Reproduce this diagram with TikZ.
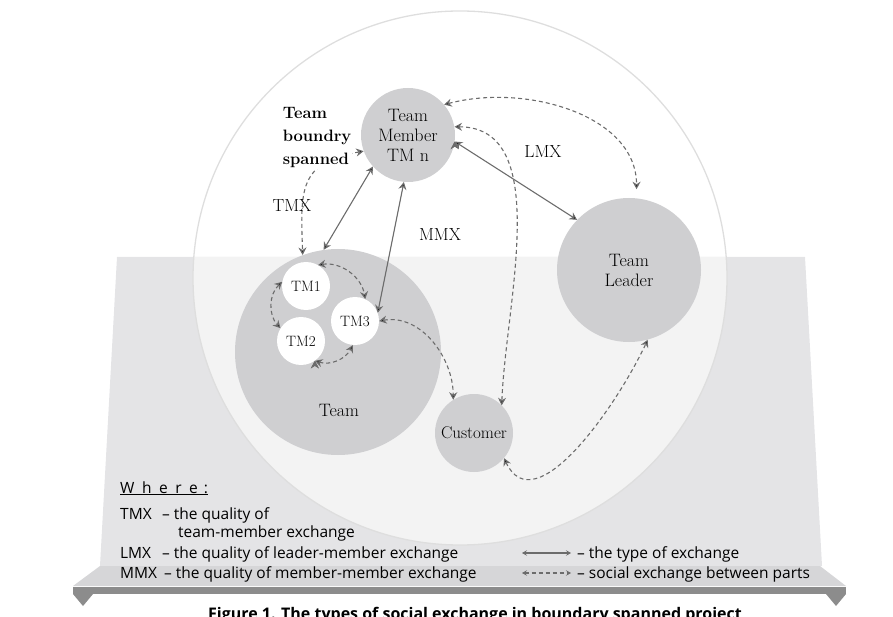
\documentclass[tikz,border=0pt]{standalone}
\usepackage{fontspec}
\setsansfont{Open Sans}
\usepackage{tikz}
\usetikzlibrary{arrows.meta, positioning}
\usepackage{xcolor}

\definecolor{panelgray}{RGB}{228,228,230}
\definecolor{innergray}{RGB}{243,243,243}
\definecolor{ringgray}{RGB}{222,222,222}
\definecolor{nodegray}{RGB}{207,207,209}
\definecolor{bandgray}{RGB}{214,214,216}
\definecolor{bargray}{RGB}{140,140,140}
\definecolor{arrowgray}{RGB}{108,108,108}

\begin{document}
\begin{tikzpicture}[x=1pt,y=1pt,>={Stealth[length=7.5pt,width=8pt,inset=2.5pt]},
    font=\fontsize{18}{20}\selectfont]
  \tikzstyle{actor}=[circle,fill=nodegray,inner sep=0pt,align=center]
  \tikzstyle{member}=[circle,fill=white,inner sep=0pt,minimum size=48pt,font=\fontsize{15}{17}\selectfont]
  \tikzstyle{exch}=[<->,draw=arrowgray,line width=1.1pt]
  \tikzstyle{social}=[exch,dash pattern=on 4pt off 3pt]
  \tikzstyle{keytip}=[>={Stealth[length=5pt,width=5.5pt,inset=2pt]}]
  \tikzstyle{legend}=[anchor=base west,inner sep=0pt,font=\sffamily\fontsize{15.5}{17}\selectfont]

  \useasboundingbox (0,0) rectangle (893,-617);

  % panel, ring and shelf
  \fill[panelgray] (117,-257) -- (805,-257) -- (822,-566) -- (100,-566) -- cycle;
  \begin{scope}
    \clip (117,-257) -- (805,-257) -- (822,-566) -- (100,-566) -- cycle;
    \fill[innergray] (460,-278) circle (267pt);
  \end{scope}
  \draw[ringgray,line width=1.3pt] (460,-278) circle (267pt);
  \fill[bandgray] (100,-566) -- (820,-566) -- (846,-586) -- (73,-586) -- cycle;
  \fill[bargray] (73,-587) rectangle (846,-594);
  \fill[bargray] (73,-594) -- (93,-594) -- (83,-606) -- cycle;
  \fill[bargray] (826,-594) -- (846,-594) -- (836,-606) -- cycle;

  \node[actor,minimum size=94pt]  (tm_n)   at (408,-135) {Team\\Member\\TM n};
  \node[actor,minimum size=144pt] (leader) at (629,-270) {Team\\Leader};
  \node[actor,minimum size=206pt] (team)   at (338,-352) {};
  \node                           (team_lbl) at (339,-410) {Team};
  \node[actor,minimum size=78pt,font=\fontsize{17}{19}\selectfont] (cust) at (474,-433) {Customer};
  \node[member] (tm_1) at (306,-286) {TM1};
  \node[member] (tm_2) at (301,-341) {TM2};
  \node[member] (tm_3) at (355,-321) {TM3};

  \path[exch]
  (tm_n.222) edge (team.98)
  (tm_n.265) edge (tm_3.20)
  (tm_n.-8)  edge (leader.136)
  ;

  \path[social]
  (tm_n.200) edge [out=190,in=92,looseness=1.4] (team.110)
  (tm_n.40)  edge [out=15,in=90,shorten >=9pt] (leader.84)
  (tm_n.10)  edge [out=0,in=88,looseness=0.9] (cust.45)
  (tm_3.east) edge [out=10,in=90] (cust.122)
  (cust.-40) edge [out=-65,in=-115] (leader.-75)
  (tm_1.60)  edge [bend left=45]  (tm_3.65)
  (tm_1.170) edge [bend right=45] (tm_2.148)
  (tm_2.-55) edge [bend right=40] (tm_3.-95)
  ;

  \node[font=\bfseries\fontsize{16.5}{23}\selectfont,align=left,fill=white,inner sep=1pt]
    (span_lbl) at (317,-138) {Team\\boundry\\spanned};
  \node[font=\fontsize{17.5}{19}\selectfont] (tmx_lbl) at (292,-206) {TMX};
  \node[font=\fontsize{17.5}{19}\selectfont] (mmx_lbl) at (440,-235) {MMX};
  \node[font=\fontsize{17.5}{19}\selectfont] (lmx_lbl) at (543,-152) {LMX};

  % legend
  \node[legend] (where) at (120,-493) {\underline{W\hspace{7.5pt}h\hspace{7.5pt}e\hspace{7.5pt}r\hspace{7.5pt}e\hspace{6pt}:}};
  \node[legend] (tmx_key) at (120,-519) {TMX};
  \node[legend] (tmx_txt) at (162,-519) {-- the quality of};
  \node[legend] (tmx_txt2) at (178,-537) {team-member exchange};
  \node[legend] (lmx_key) at (120,-558) {LMX};
  \node[legend] (lmx_txt) at (162,-558) {-- the quality of leader-member exchange};
  \node[legend] (mmx_key) at (120,-578) {MMX};
  \node[legend] (mmx_txt) at (164,-578) {-- the quality of member-member exchange};

  \coordinate (key_a) at (522,-553);
  \coordinate (key_b) at (571,-553);
  \coordinate (key_c) at (522,-573);
  \coordinate (key_d) at (571,-573);
  \draw[exch,keytip] (key_a) -- (key_b);
  \draw[social,keytip] (key_c) -- (key_d);
  \node[legend] (type_txt)   at (577,-558) {-- the type of exchange};
  \node[legend] (social_txt) at (577,-578) {-- social exchange between parts};

  \node[anchor=base,inner sep=0pt,font=\sffamily\bfseries\fontsize{16}{18}\selectfont]
    (caption) at (475,-619) {Figure 1. The types of social exchange in boundary spanned project};
\end{tikzpicture}
\end{document}
